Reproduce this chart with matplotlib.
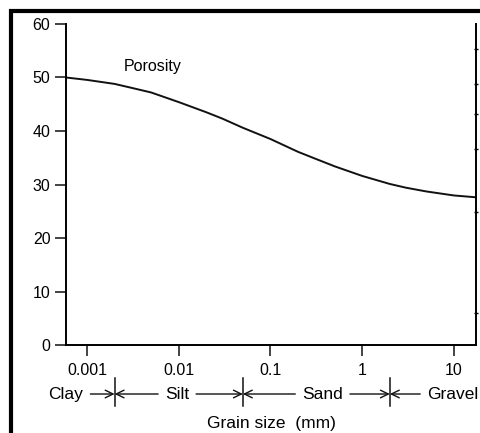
import matplotlib
matplotlib.use("Agg")
import matplotlib.pyplot as plt
from matplotlib.patches import Rectangle

plt.rcParams["font.family"] = ["Liberation Sans", "DejaVu Sans"]

# porosity curve
GRAIN_MM = [0.00059, 0.001, 0.002, 0.003, 0.005, 0.01, 0.02, 0.03, 0.05,
            0.1, 0.2, 0.3, 0.5, 1, 2, 3, 5, 10, 17.6]
POROSITY = [50.0, 49.55, 48.8, 48.1, 47.2, 45.4, 43.5, 42.3, 40.6,
            38.5, 36.1, 34.9, 33.4, 31.6, 30.1, 29.4, 28.7, 27.95, 27.6]

X_TICKS = [0.001, 0.01, 0.1, 1, 10]
X_TICK_LABELS = ["0.001", "0.01", "0.1", "1", "10"]
Y_TICKS = [0, 10, 20, 30, 40, 50, 60]
RIGHT_TICKS = [6.0, 24.8, 36.6, 43.1, 48.8, 55.3]

# grain-size classes and the boundaries between them (mm)
CLASSES = ["Clay", "Silt", "Sand", "Gravel"]
CLASS_BOUNDS = [0.002, 0.05, 2]
CLASS_TEXT_X = [0.00059, 0.0096, 0.37, 5.1]

fig = plt.figure(figsize=(4.8, 4.33), dpi=100)
fig.patch.set_facecolor("white")
ax = fig.add_axes([0.1369, 0.2032, 0.8558, 0.7414])

ax.plot(GRAIN_MM, POROSITY, color="#111111", lw=1.4)
ax.set_xscale("log")
ax.set_xlim(5.86e-4, 17.6)
ax.set_ylim(0, 60)
ax.set_xticks(X_TICKS)
ax.set_xticklabels(X_TICK_LABELS)
ax.minorticks_off()
ax.set_yticks(Y_TICKS)

ax.spines["top"].set_visible(False)
for s in ["left", "bottom", "right"]:
    ax.spines[s].set_linewidth(1.4)
ax.tick_params(axis="both", length=8, width=1.1, labelsize=11.5, color="#111111")
ax.tick_params(axis="x", pad=5)
ax.tick_params(axis="y", pad=3)

# right axis only carries small tick marks
ax2 = ax.twinx()
ax2.set_ylim(0, 60)
ax2.set_yticks(RIGHT_TICKS)
ax2.set_yticklabels([])
ax2.tick_params(axis="y", length=3, width=1.0, direction="inout")
for s in ["top", "left", "bottom", "right"]:
    ax2.spines[s].set_visible(False)

ax.text(0.0052, 52.0, "Porosity", fontsize=11.5, ha="center", va="center")

# class band below the axis
band = ax.get_xaxis_transform()
y_band = -0.1526
for b in CLASS_BOUNDS:
    ax.axvline(b, ymin=-0.19, ymax=-0.103, color="#111111", lw=1.1, clip_on=False)

arrow = dict(arrowstyle="->,head_length=0.45,head_width=0.22", color="#111111",
             lw=1.0, shrinkA=3, shrinkB=0)
edges = [None] + CLASS_BOUNDS + [None]
for i, (name, tx) in enumerate(zip(CLASSES, CLASS_TEXT_X)):
    ha = "left" if name == "Gravel" else "center"
    ax.text(tx, y_band, name, transform=band, fontsize=12.5, ha=ha, va="center")
    lo, hi = edges[i], edges[i + 1]
    for end in (lo, hi):
        if end is None:
            continue
        ax.annotate(name, xy=(end, y_band), xycoords=band,
                    xytext=(tx, y_band), textcoords=band, fontsize=12.5,
                    ha=ha, va="center", color="none", arrowprops=arrow,
                    annotation_clip=False)

ax.text(0.5, -0.243, "Grain size  (mm)", transform=ax.transAxes,
        fontsize=12.5, ha="center", va="center")

# scanned-page frame, cut off on the right and bottom
fig.add_artist(Rectangle((0.0219, -0.2), 1.2, 1.1753, transform=fig.transFigure,
                         fill=False, lw=3.0, edgecolor="black"))

fig.savefig("out.png", dpi=100)
